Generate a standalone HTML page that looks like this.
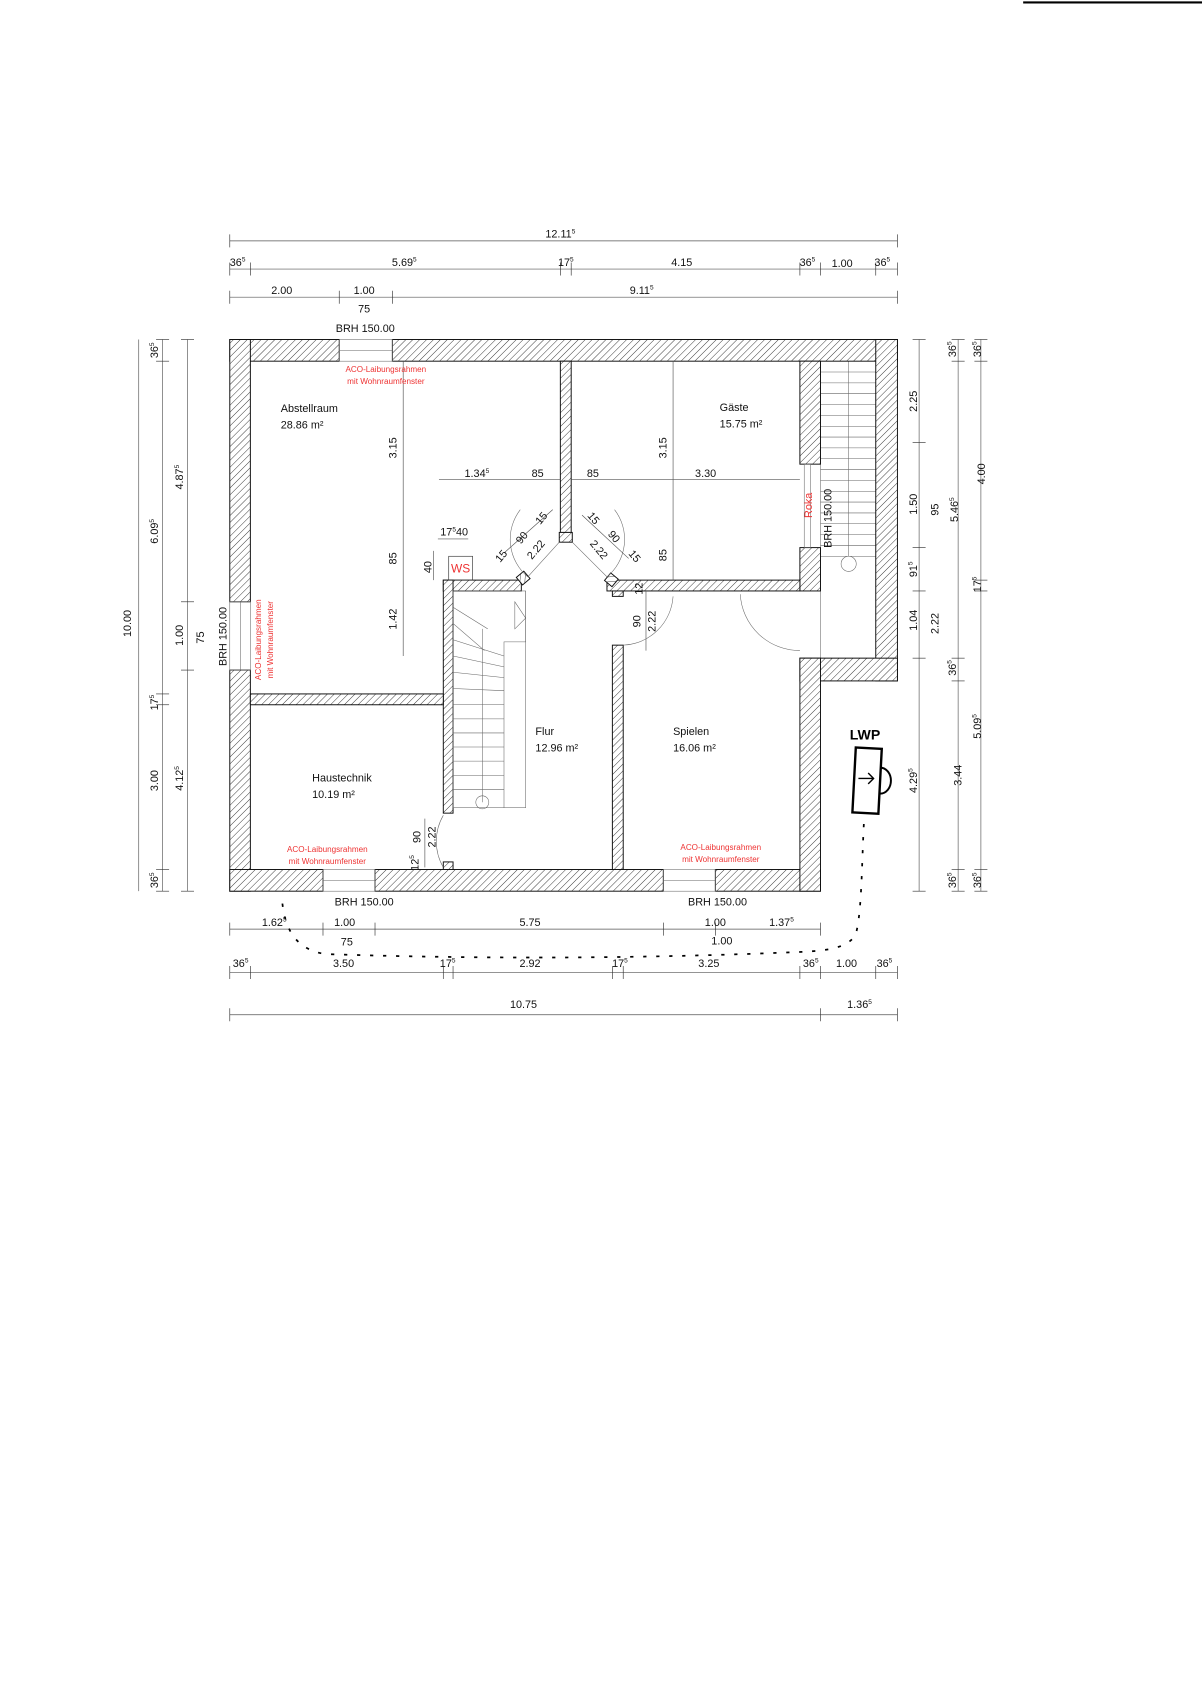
<!DOCTYPE html>
<html><head><meta charset="utf-8"><style>
html,body{margin:0;padding:0;background:#fff;}
svg{display:block;}
text{font-family:"Liberation Sans",sans-serif;font-size:10px;fill:#111;}
.r{fill:#e33;font-size:7.5px;}
.d{stroke:#555;stroke-width:0.6;fill:none;}
.t{stroke:#333;stroke-width:0.6;}
.w{fill:url(#h);stroke:#111;stroke-width:0.9;}
.thin{stroke:#666;stroke-width:0.5;fill:none;}
</style></head><body>
<svg width="1202" height="1700" viewBox="0 0 1109 1568" xmlns="http://www.w3.org/2000/svg">
<defs>
<pattern id="h" width="4.5" height="4.5" patternUnits="userSpaceOnUse" patternTransform="rotate(45)">
<rect width="4.5" height="4.5" fill="#fff"/><line x1="0" y1="0" x2="0" y2="4.5" stroke="#222" stroke-width="0.8"/>
</pattern>
</defs>
<line x1="944" y1="2" x2="1109" y2="2" stroke="#000" stroke-width="2"/>

<!-- top dimension lines -->
<line class="d" x1="212" y1="222" x2="828" y2="222"/>
<line class="d" x1="212" y1="248" x2="828" y2="248"/>
<line class="d" x1="212" y1="274" x2="828" y2="274"/>
<g class="t">
<line x1="212" y1="216" x2="212" y2="228"/><line x1="828" y1="216" x2="828" y2="228"/>
<line x1="212" y1="242" x2="212" y2="254"/><line x1="231" y1="242" x2="231" y2="254"/><line x1="517" y1="242" x2="517" y2="254"/><line x1="527" y1="242" x2="527" y2="254"/><line x1="738" y1="242" x2="738" y2="254"/><line x1="757" y1="242" x2="757" y2="254"/><line x1="808" y1="242" x2="808" y2="254"/><line x1="828" y1="242" x2="828" y2="254"/>
<line x1="212" y1="268" x2="212" y2="280"/><line x1="313" y1="268" x2="313" y2="280"/><line x1="362" y1="268" x2="362" y2="280"/><line x1="828" y1="268" x2="828" y2="280"/>
</g>
<text x="517" y="219" text-anchor="middle">12.11<tspan font-size="6" dy="-4">5</tspan></text>
<text x="212" y="245">36<tspan font-size="6" dy="-4">5</tspan></text>
<text x="373" y="245" text-anchor="middle">5.69<tspan font-size="6" dy="-4">5</tspan></text>
<text x="522" y="245" text-anchor="middle">17<tspan font-size="6" dy="-4">5</tspan></text>
<text x="629" y="245" text-anchor="middle">4.15</text>
<text x="745" y="245" text-anchor="middle">36<tspan font-size="6" dy="-4">5</tspan></text>
<text x="777" y="246" text-anchor="middle">1.00</text>
<text x="814" y="245" text-anchor="middle">36<tspan font-size="6" dy="-4">5</tspan></text>
<text x="260" y="271" text-anchor="middle">2.00</text>
<text x="336" y="271" text-anchor="middle">1.00</text>
<text x="592" y="271" text-anchor="middle">9.11<tspan font-size="6" dy="-4">5</tspan></text>
<text x="336" y="288" text-anchor="middle">75</text>
<text x="337" y="306" text-anchor="middle">BRH 150.00</text>

<!-- left dims -->
<line class="d" x1="128" y1="313" x2="128" y2="822"/>
<line class="d" x1="150" y1="313" x2="150" y2="822"/>
<line class="d" x1="173" y1="313" x2="173" y2="822"/>
<g class="t">
<line x1="144" y1="333" x2="156" y2="333"/><line x1="144" y1="640" x2="156" y2="640"/><line x1="144" y1="650" x2="156" y2="650"/><line x1="144" y1="802" x2="156" y2="802"/><line x1="144" y1="313" x2="156" y2="313"/><line x1="144" y1="822" x2="156" y2="822"/>
<line x1="167" y1="555" x2="179" y2="555"/><line x1="167" y1="618" x2="179" y2="618"/><line x1="167" y1="313" x2="179" y2="313"/><line x1="167" y1="822" x2="179" y2="822"/>
</g>
<g font-size="10">
<text transform="translate(121,575) rotate(-90)" text-anchor="middle">10.00</text>
<text transform="translate(146,323) rotate(-90)" text-anchor="middle">36<tspan font-size="6" dy="-4">5</tspan></text>
<text transform="translate(146,490) rotate(-90)" text-anchor="middle">6.09<tspan font-size="6" dy="-4">5</tspan></text>
<text transform="translate(146,648) rotate(-90)" text-anchor="middle">17<tspan font-size="6" dy="-4">5</tspan></text>
<text transform="translate(146,720) rotate(-90)" text-anchor="middle">3.00</text>
<text transform="translate(146,812) rotate(-90)" text-anchor="middle">36<tspan font-size="6" dy="-4">5</tspan></text>
<text transform="translate(169,440) rotate(-90)" text-anchor="middle">4.87<tspan font-size="6" dy="-4">5</tspan></text>
<text transform="translate(169,586) rotate(-90)" text-anchor="middle">1.00</text>
<text transform="translate(188,588) rotate(-90)" text-anchor="middle">75</text>
<text transform="translate(169,718) rotate(-90)" text-anchor="middle">4.12<tspan font-size="6" dy="-4">5</tspan></text>
<text transform="translate(209,587) rotate(-90)" text-anchor="middle">BRH 150.00</text>
</g>

<!-- right dims -->
<line class="d" x1="848" y1="313" x2="848" y2="822"/>
<line class="d" x1="884" y1="313" x2="884" y2="822"/>
<line class="d" x1="905" y1="313" x2="905" y2="822"/>
<g class="t">
<line x1="842" y1="313" x2="854" y2="313"/><line x1="842" y1="408" x2="854" y2="408"/><line x1="842" y1="505" x2="854" y2="505"/><line x1="842" y1="545" x2="854" y2="545"/><line x1="842" y1="607" x2="854" y2="607"/><line x1="842" y1="822" x2="854" y2="822"/>
<line x1="878" y1="313" x2="890" y2="313"/><line x1="878" y1="333" x2="890" y2="333"/><line x1="878" y1="607" x2="890" y2="607"/><line x1="878" y1="628" x2="890" y2="628"/><line x1="878" y1="802" x2="890" y2="802"/><line x1="878" y1="822" x2="890" y2="822"/>
<line x1="899" y1="313" x2="911" y2="313"/><line x1="899" y1="333" x2="911" y2="333"/><line x1="899" y1="535" x2="911" y2="535"/><line x1="899" y1="545" x2="911" y2="545"/><line x1="899" y1="802" x2="911" y2="802"/><line x1="899" y1="822" x2="911" y2="822"/>
</g>
<text transform="translate(846,370) rotate(-90)" text-anchor="middle">2.25</text>
<text transform="translate(846,465) rotate(-90)" text-anchor="middle">1.50</text>
<text transform="translate(846,525) rotate(-90)" text-anchor="middle">91<tspan font-size="6" dy="-4">5</tspan></text>
<text transform="translate(846,572) rotate(-90)" text-anchor="middle">1.04</text>
<text transform="translate(846,720) rotate(-90)" text-anchor="middle">4.29<tspan font-size="6" dy="-4">5</tspan></text>
<text transform="translate(866,470) rotate(-90)" text-anchor="middle">95</text>
<text transform="translate(866,575) rotate(-90)" text-anchor="middle">2.22</text>
<text transform="translate(882,322) rotate(-90)" text-anchor="middle">36<tspan font-size="6" dy="-4">5</tspan></text>
<text transform="translate(884,470) rotate(-90)" text-anchor="middle">5.46<tspan font-size="6" dy="-4">5</tspan></text>
<text transform="translate(882,616) rotate(-90)" text-anchor="middle">36<tspan font-size="6" dy="-4">5</tspan></text>
<text transform="translate(887,715) rotate(-90)" text-anchor="middle">3.44</text>
<text transform="translate(882,812) rotate(-90)" text-anchor="middle">36<tspan font-size="6" dy="-4">5</tspan></text>
<text transform="translate(905,322) rotate(-90)" text-anchor="middle">36<tspan font-size="6" dy="-4">5</tspan></text>
<text transform="translate(909,437) rotate(-90)" text-anchor="middle">4.00</text>
<text transform="translate(905,539) rotate(-90)" text-anchor="middle">17<tspan font-size="6" dy="-4">5</tspan></text>
<text transform="translate(905,670) rotate(-90)" text-anchor="middle">5.09<tspan font-size="6" dy="-4">5</tspan></text>
<text transform="translate(905,812) rotate(-90)" text-anchor="middle">36<tspan font-size="6" dy="-4">5</tspan></text>

<!-- bottom dims -->
<line class="d" x1="212" y1="857" x2="757" y2="857"/>
<line class="d" x1="212" y1="897" x2="828" y2="897"/>
<line class="d" x1="212" y1="936" x2="828" y2="936"/>
<g class="t">
<line x1="212" y1="851" x2="212" y2="863"/><line x1="298" y1="851" x2="298" y2="863"/><line x1="346" y1="851" x2="346" y2="863"/><line x1="612" y1="851" x2="612" y2="863"/><line x1="660" y1="851" x2="660" y2="863"/><line x1="757" y1="851" x2="757" y2="863"/>
<line x1="212" y1="891" x2="212" y2="903"/><line x1="231" y1="891" x2="231" y2="903"/><line x1="409" y1="891" x2="409" y2="903"/><line x1="418" y1="891" x2="418" y2="903"/><line x1="565" y1="891" x2="565" y2="903"/><line x1="575" y1="891" x2="575" y2="903"/><line x1="738" y1="891" x2="738" y2="903"/><line x1="757" y1="891" x2="757" y2="903"/><line x1="808" y1="891" x2="808" y2="903"/><line x1="828" y1="891" x2="828" y2="903"/>
<line x1="212" y1="930" x2="212" y2="942"/><line x1="757" y1="930" x2="757" y2="942"/><line x1="828" y1="930" x2="828" y2="942"/>
</g>
<text x="336" y="835" text-anchor="middle">BRH 150.00</text>
<text x="662" y="835" text-anchor="middle">BRH 150.00</text>
<text x="253" y="854" text-anchor="middle">1.62<tspan font-size="6" dy="-4">5</tspan></text>
<text x="318" y="854" text-anchor="middle">1.00</text>
<text x="489" y="854" text-anchor="middle">5.75</text>
<text x="660" y="854" text-anchor="middle">1.00</text>
<text x="721" y="854" text-anchor="middle">1.37<tspan font-size="6" dy="-4">5</tspan></text>
<text x="320" y="872" text-anchor="middle">75</text>
<text x="666" y="871" text-anchor="middle">1.00</text>
<text x="222" y="892" text-anchor="middle">36<tspan font-size="6" dy="-4">5</tspan></text>
<text x="317" y="892" text-anchor="middle">3.50</text>
<text x="413" y="892" text-anchor="middle">17<tspan font-size="6" dy="-4">5</tspan></text>
<text x="489" y="892" text-anchor="middle">2.92</text>
<text x="572" y="892" text-anchor="middle">17<tspan font-size="6" dy="-4">5</tspan></text>
<text x="654" y="892" text-anchor="middle">3.25</text>
<text x="748" y="892" text-anchor="middle">36<tspan font-size="6" dy="-4">5</tspan></text>
<text x="781" y="892" text-anchor="middle">1.00</text>
<text x="816" y="892" text-anchor="middle">36<tspan font-size="6" dy="-4">5</tspan></text>
<text x="483" y="930" text-anchor="middle">10.75</text>
<text x="793" y="930" text-anchor="middle">1.36<tspan font-size="6" dy="-4">5</tspan></text>

<!-- annex stairs -->
<g class="thin">
<rect x="757" y="333" width="51" height="274"/>
<line x1="757" y1="343" x2="808" y2="343"/><line x1="757" y1="353" x2="808" y2="353"/><line x1="757" y1="363" x2="808" y2="363"/><line x1="757" y1="373" x2="808" y2="373"/><line x1="757" y1="383" x2="808" y2="383"/><line x1="757" y1="393" x2="808" y2="393"/><line x1="757" y1="403" x2="808" y2="403"/><line x1="757" y1="413" x2="808" y2="413"/><line x1="757" y1="423" x2="808" y2="423"/><line x1="757" y1="433" x2="808" y2="433"/><line x1="757" y1="443" x2="808" y2="443"/><line x1="757" y1="453" x2="808" y2="453"/><line x1="757" y1="463" x2="808" y2="463"/><line x1="757" y1="473" x2="808" y2="473"/><line x1="757" y1="483" x2="808" y2="483"/><line x1="757" y1="493" x2="808" y2="493"/><line x1="757" y1="503" x2="808" y2="503"/><line x1="757" y1="513" x2="808" y2="513"/>
<line x1="783" y1="333" x2="783" y2="513"/>
<circle cx="783" cy="520" r="7"/>
</g>
<text transform="translate(767,478) rotate(-90)" text-anchor="middle">BRH 150.00</text>

<!-- outer walls -->
<rect class="w" x="212" y="313" width="101" height="20"/>
<rect class="w" x="362" y="313" width="466" height="20"/>
<rect class="w" x="212" y="313" width="19" height="242"/>
<rect class="w" x="212" y="618" width="19" height="204"/>
<rect class="w" x="212" y="802" width="86" height="20"/>
<rect class="w" x="346" y="802" width="266" height="20"/>
<rect class="w" x="660" y="802" width="97" height="20"/>
<rect class="w" x="808" y="313" width="20" height="315"/>
<rect class="w" x="738" y="607" width="90" height="21"/>
<rect class="w" x="738" y="607" width="19" height="215"/>
<rect class="w" x="738" y="333" width="19" height="95"/>
<rect class="w" x="738" y="505" width="19" height="40"/>
<!-- windows -->
<g class="thin"><rect x="313" y="313" width="49" height="20"/><line x1="313" y1="323" x2="362" y2="323"/>
<rect x="212" y="555" width="19" height="63"/><line x1="222" y1="555" x2="222" y2="618"/>
<rect x="298" y="802" width="48" height="20"/><line x1="298" y1="812" x2="346" y2="812"/>
<rect x="612" y="802" width="48" height="20"/><line x1="612" y1="812" x2="660" y2="812"/>
<rect x="742" y="428" width="6" height="77"/>
</g>

<!-- interior walls -->
<rect class="w" x="517" y="333" width="10" height="158"/>
<rect class="w" x="516" y="491" width="12" height="9"/>
<rect class="w" x="409" y="535" width="72" height="10"/>
<rect class="w" x="478" y="529" width="9" height="9" transform="rotate(-40 482 533)"/>
<rect class="w" x="560" y="535" width="178" height="10"/>
<rect class="w" x="560" y="530" width="9" height="9" transform="rotate(40 564 534)"/>
<rect class="w" x="409" y="535" width="9" height="215"/>
<rect class="w" x="409" y="795" width="9" height="7"/>
<rect class="w" x="231" y="640" width="178" height="10"/>
<rect class="w" x="565" y="545" width="10" height="5"/>
<rect class="w" x="565" y="595" width="10" height="207"/>
<!-- diagonal door lines -->
<line class="thin" x1="487" y1="532" x2="516" y2="500"/>
<line class="thin" x1="528" y1="500" x2="560" y2="532"/>
<path class="thin" d="M487 532 A 45 45 0 0 1 480 470"/>
<path class="thin" d="M560 532 A 45 45 0 0 0 567 470"/>
<path class="thin" d="M575 595 A 48 48 0 0 0 621 550"/>
<path class="thin" d="M738 600 A 55 55 0 0 1 683 548"/>
<path class="thin" d="M409 800 A 48 48 0 0 1 409 752"/>

<!-- inner stair -->
<g class="thin">
<rect x="418" y="545" width="67" height="200"/>
<polyline points="485,545 485,592 465,592 465,745"/>
<line x1="418" y1="560" x2="450" y2="580"/><line x1="418" y1="575" x2="447" y2="600"/><line x1="418" y1="590" x2="465" y2="605"/><line x1="418" y1="605" x2="465" y2="615"/>
<line x1="418" y1="620" x2="465" y2="625"/><line x1="418" y1="635" x2="465" y2="637"/>
<line x1="418" y1="650" x2="465" y2="650"/><line x1="418" y1="663" x2="465" y2="663"/><line x1="418" y1="676" x2="465" y2="676"/><line x1="418" y1="689" x2="465" y2="689"/><line x1="418" y1="702" x2="465" y2="702"/><line x1="418" y1="715" x2="465" y2="715"/><line x1="418" y1="728" x2="465" y2="728"/>
<polygon points="475,555 485,570 475,580"/>
<line x1="445" y1="580" x2="445" y2="740"/>
<circle cx="445" cy="740" r="6"/>
</g>

<!-- interior dims -->
<g class="d">
<line x1="372" y1="333" x2="372" y2="605"/>
<line x1="405" y1="442" x2="517" y2="442"/>
<line x1="527" y1="442" x2="738" y2="442"/>
<line x1="621" y1="333" x2="621" y2="535"/>
<line x1="404" y1="497" x2="432" y2="497"/>
<line x1="400" y1="508" x2="400" y2="535"/>
<line x1="596" y1="545" x2="596" y2="600"/>
<line x1="392" y1="755" x2="392" y2="800"/>
<line x1="465" y1="510" x2="510" y2="470"/>
<line x1="537" y1="475" x2="580" y2="515"/>
</g>
<text transform="translate(366,413) rotate(-90)" text-anchor="middle">3.15</text>
<text transform="translate(366,515) rotate(-90)" text-anchor="middle">85</text>
<text transform="translate(366,571) rotate(-90)" text-anchor="middle">1.42</text>
<text x="440" y="440" text-anchor="middle">1.34<tspan font-size="6" dy="-4">5</tspan></text>
<text x="496" y="440" text-anchor="middle">85</text>
<text x="547" y="440" text-anchor="middle">85</text>
<text x="651" y="440" text-anchor="middle">3.30</text>
<text transform="translate(615,413) rotate(-90)" text-anchor="middle">3.15</text>
<text transform="translate(615,512) rotate(-90)" text-anchor="middle">85</text>
<text x="419" y="494" text-anchor="middle">17<tspan font-size="6" dy="-4">5</tspan><tspan dy="4">40</tspan></text>
<text transform="translate(398,523) rotate(-90)" text-anchor="middle">40</text>
<text transform="translate(465,515) rotate(-50)" text-anchor="middle">15</text>
<text transform="translate(484,498) rotate(-50)" text-anchor="middle">90</text>
<text transform="translate(502,480) rotate(-50)" text-anchor="middle">15</text>
<text transform="translate(497,509) rotate(-50)" text-anchor="middle">2.22</text>
<text transform="translate(545,480) rotate(50)" text-anchor="middle">15</text>
<text transform="translate(564,497) rotate(50)" text-anchor="middle">90</text>
<text transform="translate(583,515) rotate(50)" text-anchor="middle">15</text>
<text transform="translate(550,509) rotate(50)" text-anchor="middle">2.22</text>
<text transform="translate(593,543) rotate(-90)" text-anchor="middle">12</text>
<text transform="translate(591,573) rotate(-90)" text-anchor="middle">90</text>
<text transform="translate(605,573) rotate(-90)" text-anchor="middle">2.22</text>
<text transform="translate(388,772) rotate(-90)" text-anchor="middle">90</text>
<text transform="translate(402,772) rotate(-90)" text-anchor="middle">2.22</text>
<text transform="translate(386,796) rotate(-90)" text-anchor="middle">12<tspan font-size="6" dy="-4">5</tspan></text>

<!-- WS -->
<rect x="414" y="513" width="22" height="22" fill="none" stroke="#333" stroke-width="0.6"/>
<text x="425" y="528" text-anchor="middle" class="r" style="font-size:11px">WS</text>
<text transform="translate(749,466) rotate(-90)" text-anchor="middle" class="r" style="font-size:10px">Roka</text>

<!-- room labels -->
<text x="259" y="380">Abstellraum</text><text x="259" y="395">28.86 m²</text>
<text x="664" y="379">Gäste</text><text x="664" y="394">15.75 m²</text>
<text x="494" y="678">Flur</text><text x="494" y="693">12.96 m²</text>
<text x="621" y="678">Spielen</text><text x="621" y="693">16.06 m²</text>
<text x="288" y="721">Haustechnik</text><text x="288" y="736">10.19 m²</text>

<!-- red notes -->
<text x="356" y="343" text-anchor="middle" class="r">ACO-Laibungsrahmen</text>
<text x="356" y="354" text-anchor="middle" class="r">mit Wohnraumfenster</text>
<text transform="translate(241,590) rotate(-90)" text-anchor="middle" class="r">ACO-Laibungsrahmen</text>
<text transform="translate(252,590) rotate(-90)" text-anchor="middle" class="r">mit Wohnraumfenster</text>
<text x="302" y="786" text-anchor="middle" class="r">ACO-Laibungsrahmen</text>
<text x="302" y="797" text-anchor="middle" class="r">mit Wohnraumfenster</text>
<text x="665" y="784" text-anchor="middle" class="r">ACO-Laibungsrahmen</text>
<text x="665" y="795" text-anchor="middle" class="r">mit Wohnraumfenster</text>

<!-- LWP sketch -->
<text x="784" y="682" style="font-size:13px;font-weight:bold;fill:#000">LWP</text>
<rect x="788" y="690" width="24" height="60" fill="none" stroke="#000" stroke-width="2.2" transform="rotate(3 800 720)"/>
<path d="M812 708 A 10 12 0 0 1 812 732" fill="none" stroke="#000" stroke-width="1.8"/>
<path d="M792 718 L806 718 M801 713 L806 718 L801 723" fill="none" stroke="#000" stroke-width="1.3"/>
<path d="M797 760 C795 800 795 840 790 860 C785 875 760 877 740 878 C600 884 450 885 300 880 C275 876 262 860 260 827" fill="none" stroke="#000" stroke-width="1.6" stroke-dasharray="3 9"/>
</svg>
</body></html>
